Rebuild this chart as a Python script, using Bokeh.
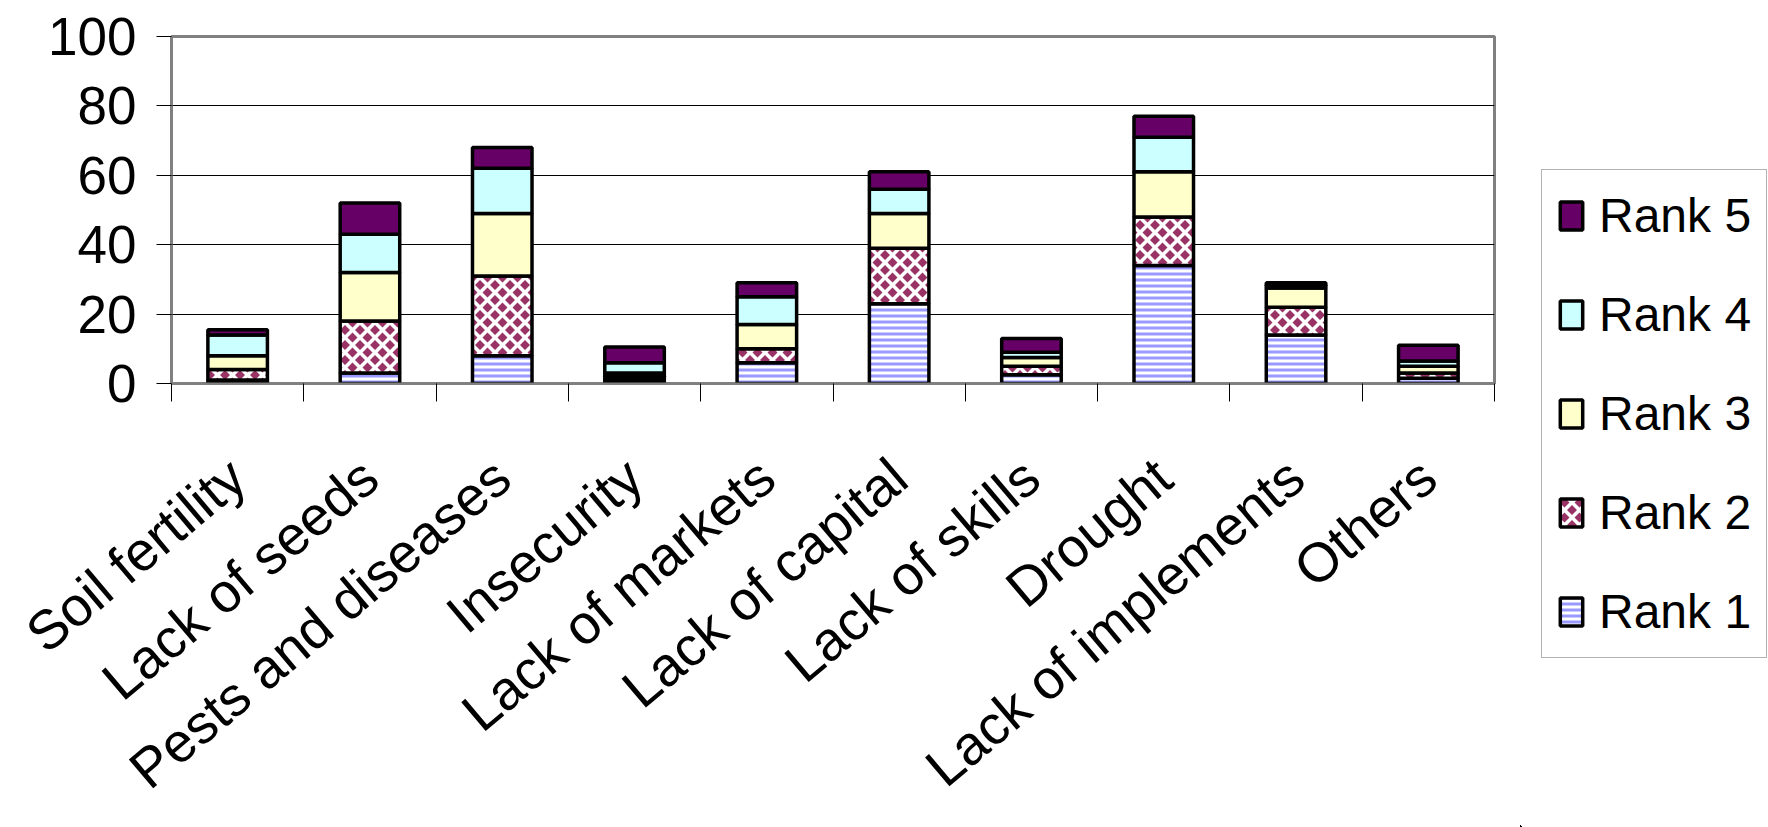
import base64

from bokeh.plotting import figure
from bokeh.layouts import row
from bokeh.models import (ColumnDataSource, FixedTicker, Range1d, Legend, LegendItem,
                          ImageURLTexture)
from bokeh.core.properties import value
from bokeh.embed import file_html
from bokeh.resources import INLINE

# Constraints faced by farmers, share of respondents (%) by rank given
categories = ["Soil fertility", "Lack of seeds", "Pests and diseases", "Insecurity",
              "Lack of markets", "Lack of capital", "Lack of skills", "Drought",
              "Lack of implements", "Others"]
rank1 = [1, 3, 8, 1, 6, 23, 2.5, 34, 14, 1.5]
rank2 = [3, 15, 23, 1, 4, 16, 2.5, 14, 8, 1.5]
rank3 = [4, 14, 18, 1, 7, 10, 2.5, 13, 5.5, 2]
rank4 = [6, 11, 13, 3, 8, 7, 1.5, 10, 0.75, 1.5]
rank5 = [1.5, 9, 6, 4.5, 4, 5, 4, 6, 0.75, 4.5]
series_names = ["Rank 1", "Rank 2", "Rank 3", "Rank 4", "Rank 5"]
y_ticks = [0, 20, 40, 60, 80, 100]

FONT = "Liberation Sans"

# 15px tile: white ground, maroon diamonds at the centre and the four corners
TILE = 15
R = 5
def _diamond(cx, cy):
    return f"M{cx - R} {cy} L{cx} {cy - R} L{cx + R} {cy} L{cx} {cy + R} Z"
tile_svg = (f'<svg xmlns="http://www.w3.org/2000/svg" width="{TILE}" height="{TILE}">'
            f'<rect width="{TILE}" height="{TILE}" fill="white"/>'
            f'<path fill="#993366" d="'
            + " ".join(_diamond(x, y) for x, y in
                       [(TILE / 2, TILE / 2), (0, 0), (TILE, 0), (0, TILE), (TILE, TILE)])
            + '"/></svg>')
diamonds = ImageURLTexture(
    url="data:image/svg+xml;base64," + base64.b64encode(tile_svg.encode()).decode())

# per-series look, bottom of the stack first
fills = ["white", "white", "#FFFFCC", "#CCFFFF", "#660066"]
patterns = [value("horizontal_line"), value("diamonds"), value(" "), value(" "), value(" ")]
hatch_colors = ["#9999FF", "#993366", "white", "white", "white"]
hatch_scales = [6, 15, 12, 12, 12]
hatch_weights = [3, 1, 1, 1, 1]
bar_style = dict(line_color="black", line_width=3.5, hatch_extra={"diamonds": diamonds})

# categories sit at the centres of unit-wide slots on a numeric axis
centres = [i + 0.5 for i in range(len(categories))]
source = ColumnDataSource(data=dict(
    x=centres,
    **{"Rank 1": rank1, "Rank 2": rank2, "Rank 3": rank3,
       "Rank 4": rank4, "Rank 5": rank5}))

p = figure(width=1520, height=827, output_backend="svg", toolbar_location=None,
           x_range=Range1d(0, len(categories)), y_range=Range1d(0, 100),
           min_border_left=171, min_border_right=26, min_border_top=36,
           min_border_bottom=432)
p.frame_align = False
p.background_fill_color = "white"
p.border_fill_color = "white"
p.outline_line_color = "#808080"
p.outline_line_width = 3

stack_style = dict(x="x", width=0.45, source=source, fill_color=fills,
                   hatch_pattern=patterns, hatch_color=hatch_colors,
                   hatch_scale=hatch_scales, hatch_weight=hatch_weights, **bar_style)
p.vbar_stack(series_names, **stack_style)

# x axis: tick marks on slot boundaries, names under slot centres
xax = p.xaxis[0]
xax.ticker = FixedTicker(ticks=centres, minor_ticks=list(range(len(categories) + 1)))
xax.major_label_overrides = {c: name for c, name in zip(centres, categories)}
xax.major_tick_out = 0
xax.major_tick_in = 0
xax.minor_tick_out = 18
xax.minor_tick_in = 0
xax.minor_tick_line_color = "black"
xax.axis_line_color = "#808080"
xax.axis_line_width = 2
xax.major_label_orientation = 0.70
xax.major_label_standoff = 68
xax.major_label_text_font = FONT
xax.major_label_text_font_size = "55px"
xax.major_label_text_color = "black"

yax = p.yaxis[0]
yax.ticker = FixedTicker(ticks=y_ticks, minor_ticks=[])
yax.major_tick_out = 15
yax.major_tick_in = 0
yax.major_tick_line_color = "black"
yax.axis_line_color = "#808080"
yax.axis_line_width = 2
yax.major_label_standoff = 20
yax.major_label_text_font = FONT
yax.major_label_text_font_size = "53px"
yax.major_label_text_color = "black"

p.xgrid.grid_line_color = None
p.ygrid.ticker = FixedTicker(ticks=[20, 40, 60, 80])
p.ygrid.grid_line_color = "black"
p.ygrid.grid_line_width = 1

# legend panel to the right of the plot area; its own copy of the stacks lies
# outside its visible ranges in both directions, so only the swatches show
lg = figure(width=248, height=827, output_backend="svg", toolbar_location=None,
            x_range=Range1d(1000, 1010), y_range=Range1d(1000, 1100),
            x_axis_location=None, y_axis_location=None,
            min_border_left=0, min_border_right=0, min_border_top=148,
            min_border_bottom=0, outline_line_color=None)
lg.frame_align = False
lg.grid.visible = False
lg.background_fill_color = "white"
lg.border_fill_color = "white"

proxies = lg.vbar_stack(series_names, **stack_style)

items = [LegendItem(label=name, renderers=[r])
         for name, r in reversed(list(zip(series_names, proxies)))]
legend = Legend(items=items, location="top_left", margin=21,
                padding=15, spacing=38, label_height=61,
                glyph_width=28, glyph_height=35, label_standoff=14,
                label_text_font=FONT, label_text_font_size="48px",
                label_text_color="black",
                border_line_color="#666666", border_line_width=1,
                background_fill_color="white", background_fill_alpha=1)
lg.add_layout(legend)

open("out.html", "w").write(file_html(row(p, lg), INLINE))
